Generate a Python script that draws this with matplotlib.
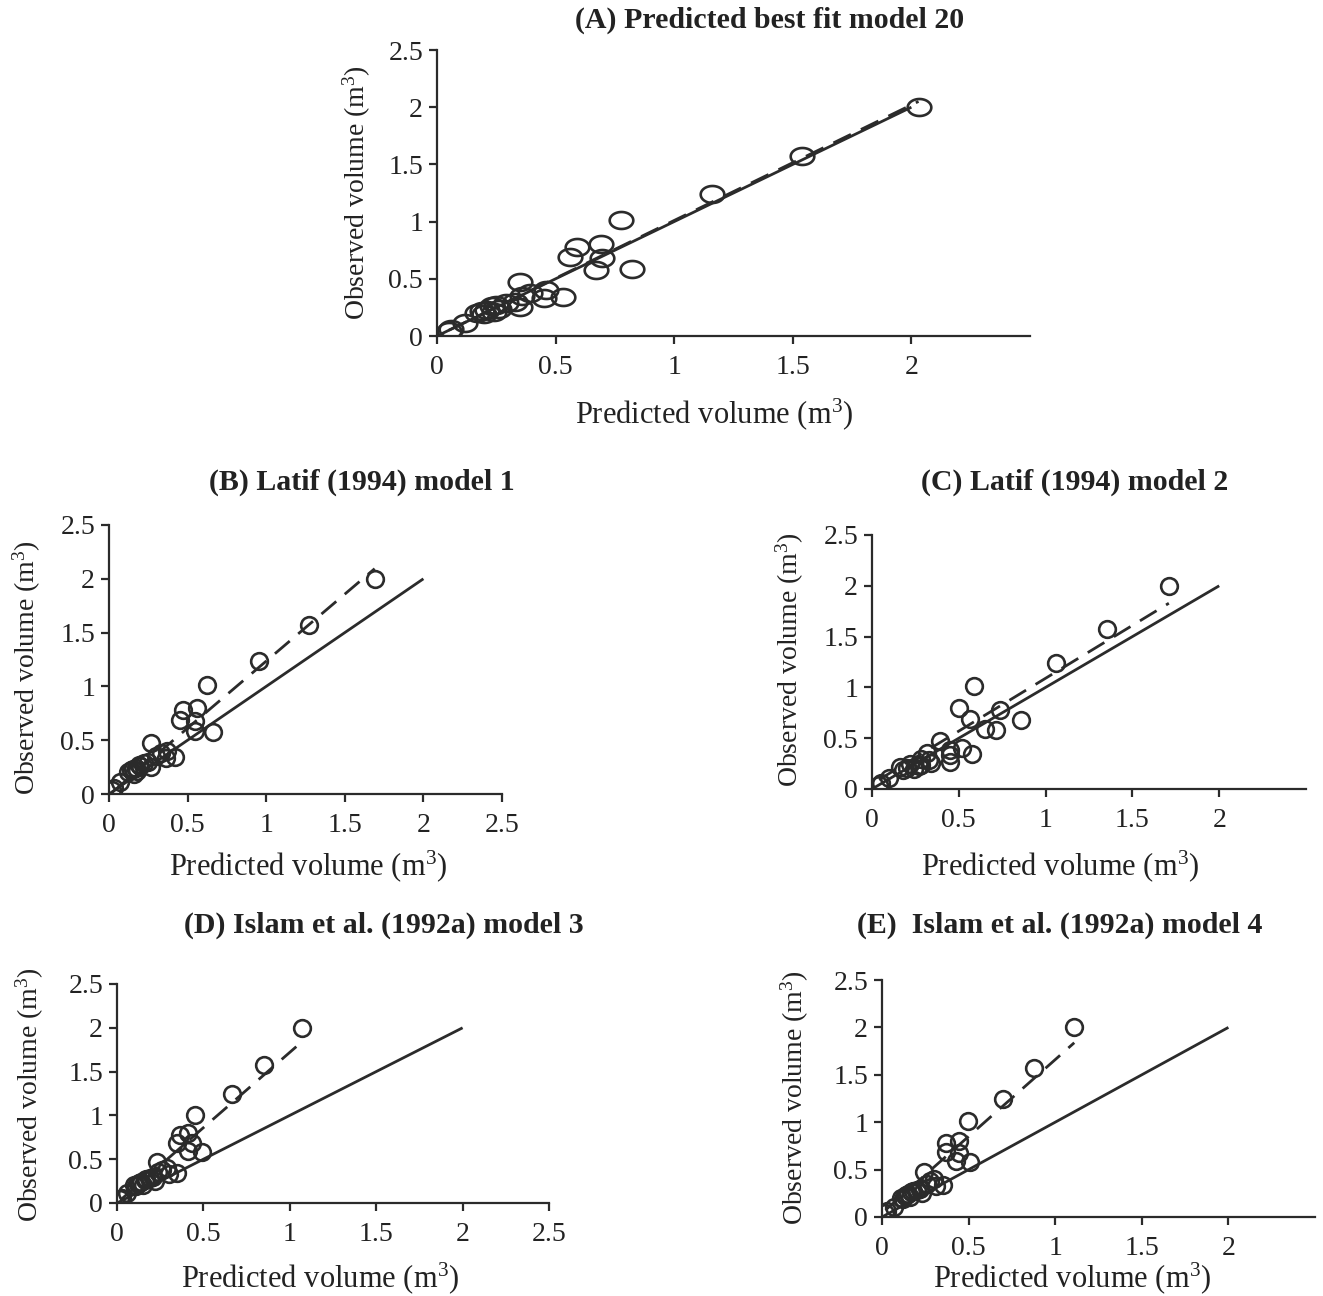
import numpy as np
import matplotlib
matplotlib.use("Agg")
import matplotlib.pyplot as plt
from matplotlib.path import Path

plt.rcParams['font.family'] = ['Liberation Serif', 'DejaVu Serif']
plt.rcParams['mathtext.fontset'] = 'custom'
plt.rcParams['mathtext.rm'] = 'Liberation Serif'
plt.rcParams['mathtext.it'] = 'Liberation Serif:italic'

# ---------------- data ----------------
observed = [2.00, 1.57, 1.24, 1.01, 0.80, 0.78, 0.69, 0.68, 0.59, 0.58,
            0.47, 0.40, 0.38, 0.35, 0.34, 0.33, 0.30, 0.29, 0.27, 0.26,
            0.25, 0.24, 0.23, 0.22, 0.21, 0.20, 0.19, 0.11, 0.06, 0.04]

pred_A = [2.03, 1.54, 1.16, 0.775, 0.69, 0.59, 0.56, 0.695, 0.82, 0.67,
          0.35, 0.46, 0.39, 0.36, 0.53, 0.45, 0.33, 0.29, 0.25, 0.23,
          0.35, 0.26, 0.21, 0.19, 0.24, 0.17, 0.20, 0.12, 0.06, 0.05]
pred_B = [1.69, 1.27, 0.955, 0.625, 0.557, 0.47, 0.45, 0.55, 0.547, 0.66,
          0.27, 0.37, 0.33, 0.30, 0.42, 0.36, 0.25, 0.22, 0.19, 0.20,
          0.27, 0.17, 0.15, 0.14, 0.18, 0.12, 0.16, 0.07, 0.03, 0.02]
pred_C = [1.71, 1.354, 1.062, 0.585, 0.503, 0.739, 0.566, 0.86, 0.649, 0.716,
          0.39, 0.518, 0.45, 0.317, 0.576, 0.45, 0.28, 0.33, 0.45, 0.34,
          0.22, 0.28, 0.27, 0.16, 0.20, 0.24, 0.18, 0.096, 0.05, 0.04]
pred_D = [1.068, 0.849, 0.666, 0.453, 0.409, 0.367, 0.347, 0.434, 0.409, 0.492,
          0.232, 0.29, 0.26, 0.24, 0.347, 0.30, 0.21, 0.19, 0.17, 0.16,
          0.22, 0.14, 0.13, 0.12, 0.15, 0.10, 0.11, 0.06, 0.03, 0.02]
pred_E = [1.11, 0.875, 0.698, 0.496, 0.442, 0.371, 0.371, 0.442, 0.429, 0.51,
          0.24, 0.30, 0.28, 0.26, 0.352, 0.31, 0.22, 0.20, 0.18, 0.17,
          0.23, 0.15, 0.14, 0.13, 0.16, 0.11, 0.12, 0.07, 0.03, 0.02]

# fitted (dashed) trend lines: slope, intercept
fit_slope = [1.01, 1.245, 1.04, 1.72, 1.62]
fit_intercept = [0.0, -0.01, 0.05, 0.0, 0.04]

titles = ["(A) Predicted best fit model 20",
          "(B) Latif (1994) model 1",
          "(C) Latif (1994) model 2",
          "(D) Islam et al. (1992a) model 3",
          "(E)  Islam et al. (1992a) model 4"]
one_to_one = [0, 2]
y_ticks = [0, 0.5, 1, 1.5, 2, 2.5]
y_ticklabels = ["0", "0.5", "1", "1.5", "2", "2.5"]
x_ticks_full = [0, 0.5, 1, 1.5, 2, 2.5]
x_ticks_short = [0, 0.5, 1, 1.5, 2]
xlabel = "Predicted volume (m$^{3}$)"
ylabel = "Observed volume (m$^{3}$)"

preds = [pred_A, pred_B, pred_C, pred_D, pred_E]

# ---------------- layout ----------------
W, H = 1323, 1296
fig = plt.figure(figsize=(W / 100, H / 100), dpi=100)

def frac_rect(l, r, t, b):
    return [l / W, 1 - b / H, (r - l) / W, (b - t) / H]

rects = [frac_rect(437, 1030, 50, 336),
         frac_rect(109, 502, 525, 794),
         frac_rect(872, 1306, 535, 789),
         frac_rect(117, 549, 984, 1203),
         frac_rect(882, 1315, 980, 1217)]
xtick_sets = [x_ticks_short, x_ticks_full, x_ticks_short, x_ticks_full, x_ticks_short]
title_pos = [(770, 20), (362, 482), (1075, 482), (384, 925), (1060, 925)]
xlabel_pos = [(714, 414), (308, 866), (1060, 866), (320, 1278), (1072, 1278)]
ylabel_pos = [(357, 193), (27, 668), (790, 660), (30, 1095), (795, 1098)]

dark = "#2b2b2b"

# ellipse marker for panel A
theta = np.linspace(0, 2 * np.pi, 60)
ell = Path(np.column_stack([np.cos(theta), 0.72 * np.sin(theta)]), closed=True)

for i in range(5):
    ax = fig.add_axes(rects[i])
    p = np.array(preds[i])
    o = np.array(observed)
    # 1:1 line
    ax.plot(one_to_one, one_to_one, color=dark, lw=2.0, solid_capstyle='butt', zorder=2)
    # fitted line
    xs = np.array([p.min(), p.max()])
    ax.plot(xs, fit_slope[i] * xs + fit_intercept[i], color=dark, lw=2.0,
            dashes=(7, 4), zorder=2)
    if i == 0:
        ax.plot(p, o, linestyle='none', marker=ell, markersize=17,
                markerfacecolor='none', markeredgecolor=dark, markeredgewidth=1.9, zorder=3)
    else:
        ax.plot(p, o, linestyle='none', marker='o', markersize=12,
                markerfacecolor='none', markeredgecolor=dark, markeredgewidth=1.9, zorder=3)
    ax.set_xlim(0, 2.5)
    ax.set_ylim(0, 2.5)
    ax.set_xticks(xtick_sets[i])
    ax.set_xticklabels([("%g" % v) for v in xtick_sets[i]])
    ax.set_yticks(y_ticks)
    ax.set_yticklabels(y_ticklabels)
    for s in ["top", "right"]:
        ax.spines[s].set_visible(False)
    for s in ["left", "bottom"]:
        ax.spines[s].set_color(dark)
        ax.spines[s].set_linewidth(1.6)
    ax.tick_params(direction='out', length=6, width=1.6, color=dark,
                   labelsize=20, labelcolor="#222222", pad=4)
    ax.tick_params(axis='x', pad=8)
    ax.patch.set_alpha(0)
    tx, ty = title_pos[i]
    fig.text(tx / W, 1 - ty / H, titles[i], ha='center', va='center',
             fontsize=21.5, fontweight='bold', color="#222222")
    lx, ly = xlabel_pos[i]
    fig.text(lx / W, 1 - ly / H, xlabel, ha='center', va='center',
             fontsize=22, color="#222222")
    yx, yy = ylabel_pos[i]
    fig.text(yx / W, 1 - yy / H, ylabel, ha='center', va='center', rotation=90,
             fontsize=20, color="#222222")

fig.savefig("out.png", dpi=100, facecolor="white")
